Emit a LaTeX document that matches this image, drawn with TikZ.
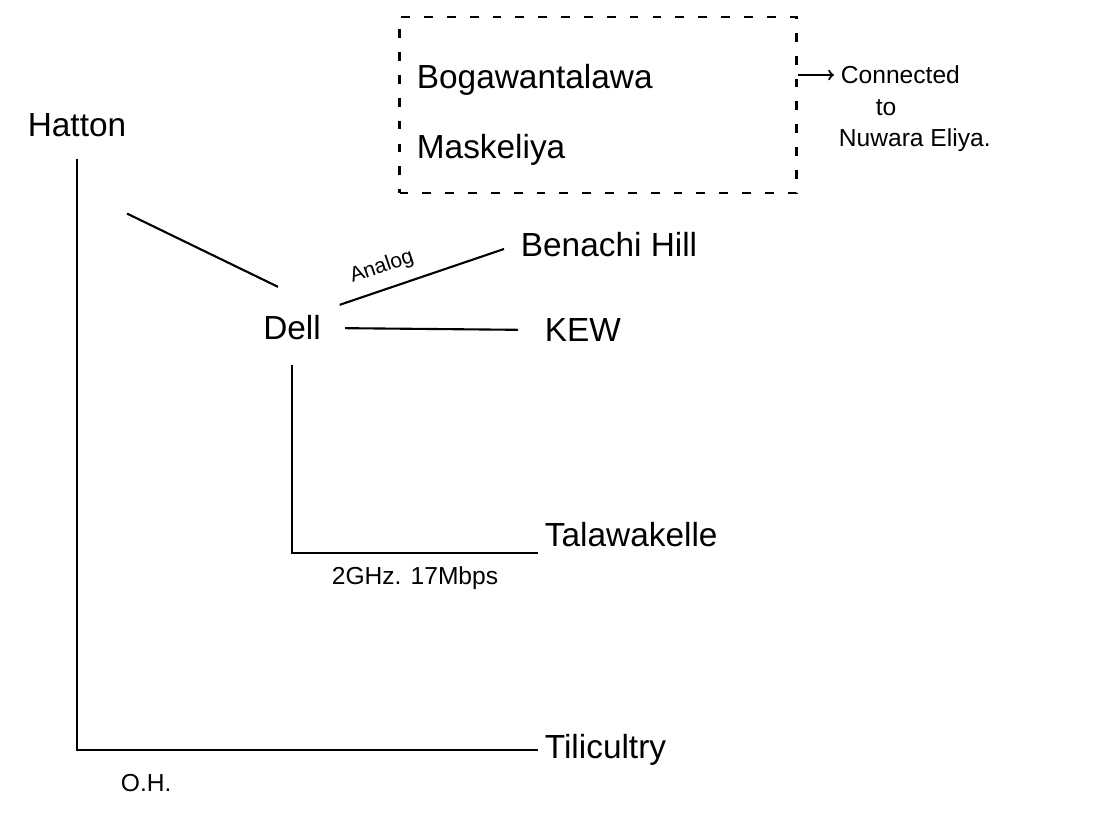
\documentclass[tikz,border=0pt]{standalone}
\usepackage{fontspec}
\setmainfont{Liberation Sans}

\begin{document}
\begin{tikzpicture}[x=0.02cm, y=-0.02cm, line width=1.2pt,
    place/.style={font=\fontsize{19}{21}\selectfont},
    note/.style={font=\fontsize{14}{16}\selectfont},
    link/.style={line width=1.2pt}]
  \useasboundingbox (0,0) rectangle (1118,818);
  % sites
  \node[place] (hatton) at (77,125) {Hatton};
  \node[place] (dell) at (292,328) {Dell};
  \node[place, anchor=west] (benachi) at (514,245) {Benachi Hill};
  \node[place, anchor=west] (kew) at (538,330) {KEW};
  \node[place, anchor=west] (talawakelle) at (538,535) {Talawakelle};
  \node[place, anchor=west] (tilicultry) at (538,750) {Tilicultry};
  \node[place, anchor=west] (boga) at (410,80) {Bogawantalawa};
  \node[place, anchor=west] (maskeliya) at (410,150) {Maskeliya};
  \node[draw, dashed, dash pattern=on 5pt off 8pt, minimum width=7.94cm,
        minimum height=3.52cm] (cluster) at (598,105) {};
  \node[note, anchor=west] (connected) at (834,75) {Connected};
  \node[note] (to) at (886,108) {to};
  \node[note, anchor=west] (nuwara) at (832,140) {Nuwara Eliya.};
  % links
  \draw[->] (cluster.east |- connected.west) -- (connected.west);
  \draw[link] ([shift={(50,70)}]hatton.south) -- ([shift={(-14,-22)}]dell.north);
  \draw[link] ([shift={(12,-4)}]dell.north east) -- ([shift={(-10,4)}]benachi.west)
    node[note, pos=0.3, above=3pt, sloped, font=\fontsize{12}{14}\selectfont] {Analog};
  \draw[link, shorten <=0.35cm, shorten >=0.4cm] (dell.east) -- (kew.west);
  \draw[link, shorten <=0.35cm] (dell.south) |- ([yshift=-10]talawakelle.west)
    node[note, pos=0.75, below=4pt] {2GHz. 17Mbps};
  \draw[link, shorten <=0.3cm] (hatton.south) |- (tilicultry.west)
    node[note, pos=0.575, below=10pt] {O.H.};
\end{tikzpicture}
\end{document}
